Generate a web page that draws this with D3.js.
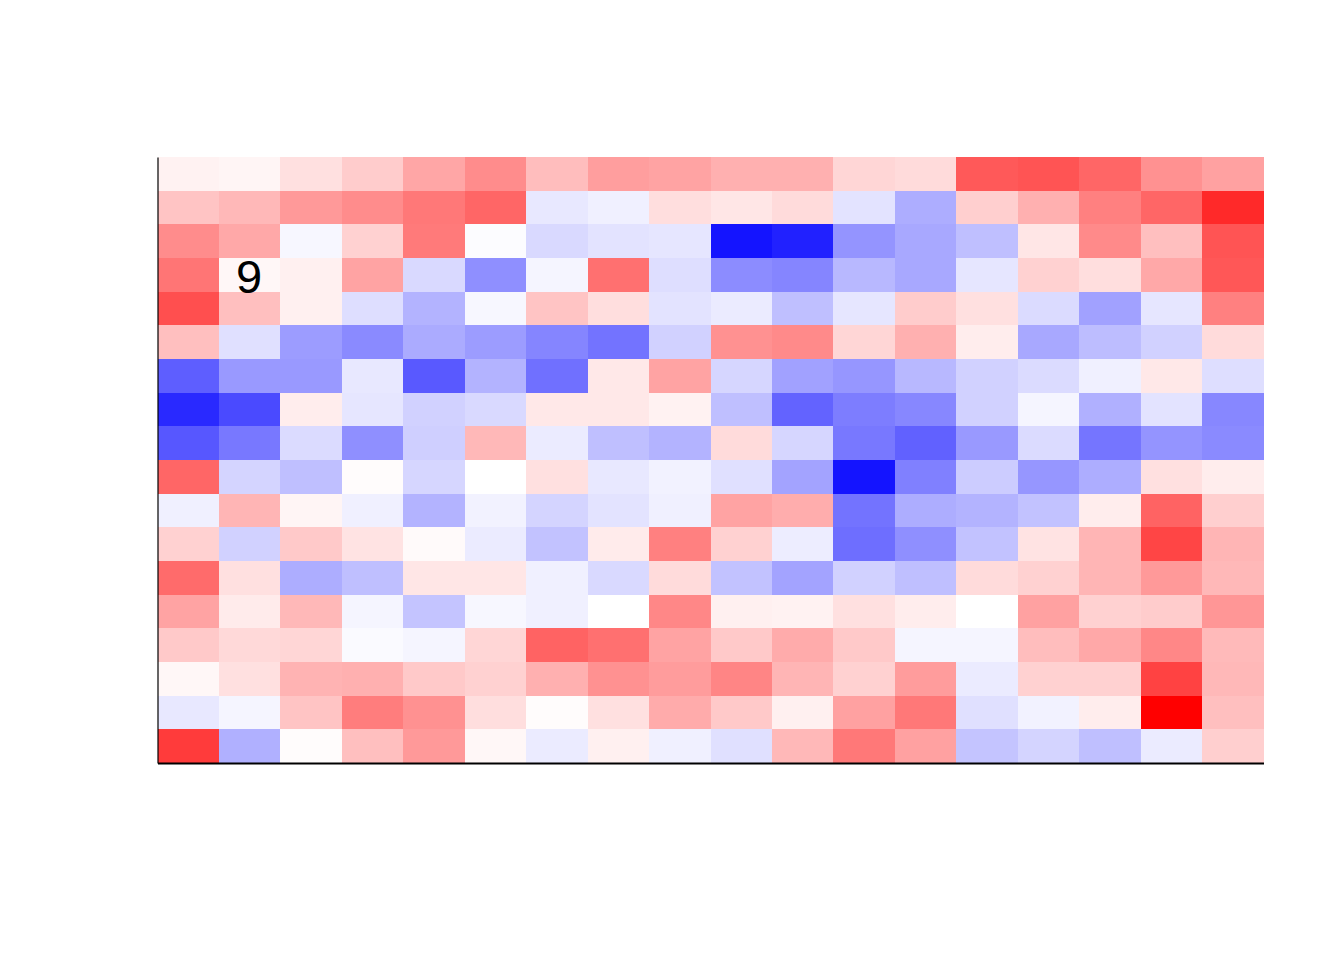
<!DOCTYPE html>
<html>
<head>
<meta charset="utf-8">
<script src="https://cdn.jsdelivr.net/npm/d3@7"></script>
<style>
  html, body { margin: 0; padding: 0; background: #fff; }
  svg { display: block; }
</style>
</head>
<body>
<svg id="chart" width="1344" height="960"></svg>
<script>
// 18 columns x 18 rows, values in [-1, 1] (blue negative, red positive), rows top to bottom
const columns = d3.range(18).map(i => "C" + (i + 1));
const rows = d3.range(18).map(i => "R" + (i + 1));
const row01 = [0.05, 0.04, 0.12, 0.20, 0.35, 0.45, 0.26, 0.38, 0.36, 0.31, 0.31, 0.16, 0.14, 0.65, 0.67, 0.60, 0.43, 0.37];
const row02 = [0.23, 0.28, 0.40, 0.45, 0.53, 0.60, -0.09, -0.06, 0.13, 0.10, 0.14, -0.11, -0.32, 0.19, 0.31, 0.50, 0.60, 0.84];
const row03 = [0.45, 0.34, -0.03, 0.18, 0.52, -0.01, -0.15, -0.11, -0.10, -0.92, -0.87, -0.42, -0.34, -0.25, 0.10, 0.46, 0.25, 0.67];
const row04 = [0.54, 0.03, 0.06, 0.36, -0.15, -0.44, -0.04, 0.56, -0.13, -0.45, -0.48, -0.28, -0.34, -0.10, 0.18, 0.13, 0.34, 0.66];
const row05 = [0.69, 0.25, 0.06, -0.13, -0.30, -0.03, 0.23, 0.13, -0.11, -0.08, -0.25, -0.10, 0.20, 0.12, -0.14, -0.37, -0.10, 0.50];
const row06 = [0.25, -0.12, -0.39, -0.46, -0.33, -0.39, -0.48, -0.55, -0.18, 0.43, 0.46, 0.16, 0.31, 0.07, -0.34, -0.26, -0.18, 0.14];
const row07 = [-0.63, -0.40, -0.40, -0.09, -0.65, -0.30, -0.56, 0.09, 0.36, -0.16, -0.37, -0.41, -0.28, -0.18, -0.14, -0.06, 0.09, -0.13];
const row08 = [-0.84, -0.71, 0.07, -0.10, -0.18, -0.15, 0.09, 0.09, 0.05, -0.25, -0.61, -0.51, -0.47, -0.18, -0.04, -0.31, -0.11, -0.47];
const row09 = [-0.66, -0.53, -0.14, -0.44, -0.19, 0.28, -0.08, -0.25, -0.30, 0.14, -0.16, -0.53, -0.62, -0.40, -0.14, -0.54, -0.42, -0.46];
const row10 = [0.60, -0.17, -0.25, 0.01, -0.16, 0.00, 0.12, -0.09, -0.05, -0.12, -0.36, -0.92, -0.50, -0.20, -0.41, -0.32, 0.12, 0.07];
const row11 = [-0.06, 0.29, 0.04, -0.06, -0.30, -0.05, -0.17, -0.11, -0.06, 0.36, 0.32, -0.55, -0.32, -0.30, -0.24, 0.07, 0.61, 0.19];
const row12 = [0.18, -0.18, 0.21, 0.11, 0.02, -0.08, -0.24, 0.08, 0.50, 0.18, -0.07, -0.57, -0.44, -0.24, 0.11, 0.29, 0.73, 0.29];
const row13 = [0.58, 0.12, -0.32, -0.25, 0.10, 0.10, -0.06, -0.15, 0.14, -0.24, -0.36, -0.18, -0.25, 0.14, 0.18, 0.29, 0.40, 0.28];
const row14 = [0.36, 0.08, 0.28, -0.04, -0.23, -0.03, -0.06, 0.00, 0.47, 0.06, 0.05, 0.12, 0.07, 0.00, 0.37, 0.18, 0.20, 0.41];
const row15 = [0.21, 0.15, 0.16, -0.02, -0.04, 0.16, 0.61, 0.56, 0.36, 0.21, 0.33, 0.21, -0.04, -0.04, 0.26, 0.34, 0.47, 0.27];
const row16 = [0.03, 0.12, 0.30, 0.31, 0.21, 0.18, 0.31, 0.43, 0.39, 0.48, 0.29, 0.18, 0.39, -0.08, 0.18, 0.18, 0.74, 0.28];
const row17 = [-0.09, -0.04, 0.23, 0.51, 0.43, 0.13, 0.01, 0.12, 0.33, 0.21, 0.06, 0.37, 0.53, -0.12, -0.05, 0.07, 1.00, 0.25];
const row18 = [0.77, -0.31, 0.01, 0.25, 0.40, 0.03, -0.08, 0.06, -0.06, -0.12, 0.28, 0.53, 0.37, -0.23, -0.17, -0.25, -0.08, 0.19];
const values = [row01, row02, row03, row04, row05, row06, row07, row08, row09, row10, row11, row12, row13, row14, row15, row16, row17, row18];
// annotation label
const labels = [{ col: "C2", row: "R4", text: "9" }];

const svg = d3.select("#chart");
const margin = { left: 157.5, top: 157, right: 1344 - 1263.5, bottom: 960 - 763 };
const W = 1344, H = 960;

const x = d3.scaleBand().domain(columns).range([margin.left, W - margin.right]).padding(0);
const y = d3.scaleBand().domain(rows).range([margin.top, H - margin.bottom]).padding(0);
const color = d3.scaleLinear().domain([-1, 0, 1]).range(["#0000ff", "#ffffff", "#ff0000"]).interpolate(d3.interpolateRgb);

const cells = [];
values.forEach((r, i) => r.forEach((v, j) => cells.push({ row: rows[i], col: columns[j], v })));

svg.append("g").selectAll("rect").data(cells).join("rect")
  .attr("x", d => x(d.col))
  .attr("y", d => y(d.row))
  .attr("width", x.bandwidth() + 0.5)
  .attr("height", y.bandwidth() + 0.5)
  .attr("fill", d => color(d.v))
  .attr("shape-rendering", "crispEdges");

svg.append("g").selectAll("text").data(labels).join("text")
  .attr("x", d => x(d.col) + x.bandwidth() / 2 - 0.5)
  .attr("y", d => y(d.row) + y.bandwidth() / 2 + 1.5)
  .attr("text-anchor", "middle")
  .attr("dominant-baseline", "central")
  .attr("font-family", "Liberation Sans, Arial, sans-serif")
  .attr("font-size", 47)
  .attr("fill", "#000")
  .text(d => d.text);

// axes lines (no ticks)
const xAxis = d3.axisBottom(x).tickSize(0).tickFormat("");
const yAxis = d3.axisLeft(y).tickSize(0).tickFormat("");
svg.append("g").attr("transform", `translate(0,${H - margin.bottom})`).call(xAxis)
  .call(g => g.select(".domain").attr("stroke", "#000").attr("stroke-width", 2));
svg.append("g").attr("transform", `translate(${margin.left},0)`).call(yAxis)
  .call(g => g.select(".domain").attr("stroke", "#000").attr("stroke-width", 1.2));
</script>
</body>
</html>
